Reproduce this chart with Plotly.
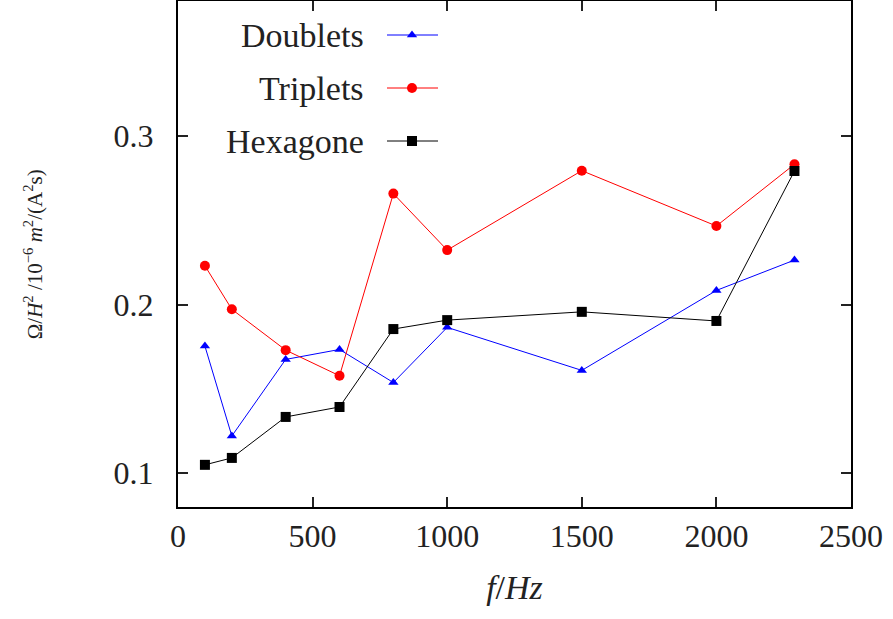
import plotly.graph_objects as go

freq_doublets = [100, 200, 400, 600, 800, 1000, 1500, 2000, 2290]
doublets = [0.1754, 0.1221, 0.1675, 0.1734, 0.1538, 0.1865, 0.161, 0.2084, 0.2264]

freq_triplets = [100, 200, 400, 600, 800, 1000, 1500, 2000, 2290]
triplets = [0.2230, 0.1972, 0.1730, 0.1578, 0.2658, 0.2323, 0.2794, 0.2466, 0.2832]

freq_hexagone = [100, 200, 400, 600, 800, 1000, 1500, 2000, 2290]
hexagone = [0.1050, 0.1091, 0.1334, 0.1393, 0.1855, 0.1908, 0.1957, 0.1903, 0.2792]

x_ticks = [0, 500, 1000, 1500, 2000, 2500]
y_ticks = [0.1, 0.2, 0.3]
y_tick_labels = ["0.1", "0.2", "0.3"]

series_names = ["Doublets", "Triplets", "Hexagone"]
series_colors = ["#0000ff", "#ff0000", "#000000"]
series_symbols = ["triangle-up", "circle", "square"]
series_sizes = [9, 10, 10]

FONT = "Liberation Serif, Times New Roman, serif"
TXT = "#222"

fig = go.Figure()
data = [(freq_doublets, doublets), (freq_triplets, triplets), (freq_hexagone, hexagone)]
for (xs, ys), name, col, sym, sz in zip(data, series_names, series_colors, series_symbols, series_sizes):
    fig.add_trace(go.Scatter(
        x=xs, y=ys, mode="lines+markers", name=name,
        line=dict(color=col, width=1),
        marker=dict(color=col, symbol=sym, size=sz, line=dict(width=0)),
        showlegend=False,
    ))

# custom gnuplot-style legend (text left, sample right) on an overlay axis in pixel-like units
legend_rows = [35, 88, 141]
for name, col, sym, sz, yr in zip(series_names, series_colors, series_symbols, series_sizes, legend_rows):
    fig.add_trace(go.Scatter(
        x=[387, 438], y=[yr, yr], mode="lines", line=dict(color=col, width=1),
        xaxis="x2", yaxis="y2", showlegend=False, hoverinfo="skip",
    ))
    fig.add_trace(go.Scatter(
        x=[412], y=[yr], mode="markers",
        marker=dict(color=col, symbol=sym, size=sz, line=dict(width=0)),
        xaxis="x2", yaxis="y2", showlegend=False, hoverinfo="skip",
    ))
    fig.add_annotation(
        x=366, y=yr, xref="x2", yref="y2", text=name, showarrow=False,
        xanchor="right", yanchor="middle", font=dict(family=FONT, size=34, color=TXT),
    )

# y-axis title placed as rotated annotation
fig.add_annotation(
    x=-0.215, y=0.5, xref="paper", yref="paper", textangle=-90, showarrow=False,
    xanchor="center", yanchor="middle",
    text="Ω/<i>H</i><sup>2</sup> /10<sup>−6</sup> <i>m</i><sup>2</sup>/(A<sup>2</sup>s)",
    font=dict(family=FONT, size=21, color=TXT),
)

axis_common = dict(
    showline=True, linecolor="black", linewidth=2, mirror="ticks",
    ticks="inside", ticklen=10, tickwidth=1.5, tickcolor=TXT,
    showgrid=False, zeroline=False, automargin=False,
    tickfont=dict(family=FONT, size=32, color=TXT),
)

fig.update_layout(
    width=893, height=619,
    margin=dict(l=178, r=42, t=1, b=112),
    plot_bgcolor="white", paper_bgcolor="white",
    xaxis=dict(range=[0, 2500], tickvals=x_ticks, ticktext=[str(v) for v in x_ticks],
               title=dict(text="<i>f</i>/<i>Hz</i>", font=dict(family=FONT, size=34, color=TXT), standoff=22),
               **axis_common),
    yaxis=dict(range=[0.08, 0.38], tickvals=y_ticks, ticktext=y_tick_labels,
               ticklabelstandoff=16, **axis_common),
    xaxis2=dict(range=[178, 851], overlaying="x", visible=False, fixedrange=True),
    yaxis2=dict(range=[507, 1], overlaying="y", visible=False, fixedrange=True),
    showlegend=False,
)

fig.write_html("out.html", config={"displayModeBar": False},
               post_script="document.body.style.margin='0';document.body.style.overflow='hidden';")
